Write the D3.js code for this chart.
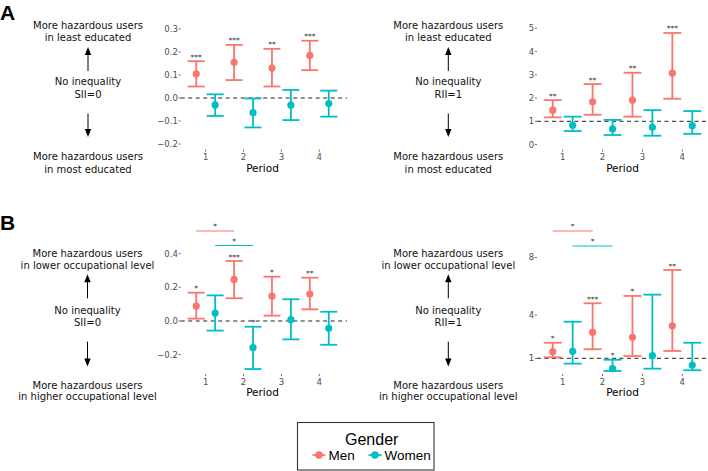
<!DOCTYPE html>
<html>
<head>
<meta charset="utf-8">
<script src="https://cdn.jsdelivr.net/npm/d3@7"></script>
<style>
  body { margin: 0; background: #fff; }
  svg { display: block; }
</style>
</head>
<body>
<svg id="chart" width="708" height="471"></svg>
<script>
// ---------------- DATA ----------------
const periods = ["1", "2", "3", "4"];
const genders = ["Men", "Women"];
const genderColors = ["#F8766D", "#00BFC4"];

// Panel A, left: SII by education
const siiEduMenEst   = [0.105, 0.155, 0.130, 0.185];
const siiEduMenLow   = [0.050, 0.078, 0.050, 0.121];
const siiEduMenHigh  = [0.160, 0.231, 0.214, 0.249];
const siiEduWomenEst = [-0.030, -0.064, -0.031, -0.024];
const siiEduWomenLow = [-0.078, -0.128, -0.096, -0.081];
const siiEduWomenHigh= [0.016, -0.002, 0.035, 0.032];
const siiEduMenSig   = ["***", "***", "**", "***"];
const siiEduWomenSig = ["", "", "", ""];
const siiEduTicks    = [-0.2, -0.1, 0.0, 0.1, 0.2, 0.3];

// Panel A, right: RII by education
const riiEduMenEst   = [1.48, 1.84, 1.91, 3.07];
const riiEduMenLow   = [1.17, 1.28, 1.20, 1.97];
const riiEduMenHigh  = [1.91, 2.60, 3.09, 4.80];
const riiEduWomenEst = [0.83, 0.67, 0.74, 0.81];
const riiEduWomenLow = [0.58, 0.41, 0.38, 0.46];
const riiEduWomenHigh= [1.20, 1.06, 1.48, 1.44];
const riiEduMenSig   = ["**", "**", "**", "***"];
const riiEduWomenSig = ["", "", "", ""];
const riiEduTicks    = [0, 1, 2, 3, 4, 5];

// Panel B, left: SII by occupational level
const siiOccMenEst   = [0.089, 0.247, 0.148, 0.160];
const siiOccMenLow   = [0.014, 0.135, 0.032, 0.069];
const siiOccMenHigh  = [0.168, 0.356, 0.263, 0.257];
const siiOccWomenEst = [0.047, -0.158, 0.008, -0.043];
const siiOccWomenLow = [-0.057, -0.285, -0.109, -0.141];
const siiOccWomenHigh= [0.152, -0.034, 0.129, 0.055];
const siiOccMenSig   = ["*", "***", "*", "**"];
const siiOccWomenSig = ["", "*", "", ""];
const siiOccTicks    = [-0.2, 0.0, 0.2, 0.4];
// Period 1 vs 2 comparison brackets (men, women): y level and label
const siiOccBracketY = [0.534, 0.448];
const siiOccBracketSig = ["*", "*"];

// Panel B, right: RII by occupational level
const riiOccMenEst   = [1.46, 2.81, 2.46, 3.26];
const riiOccMenLow   = [1.07, 1.63, 1.16, 1.51];
const riiOccMenHigh  = [2.08, 4.82, 5.33, 7.13];
const riiOccWomenEst = [1.49, 0.28, 1.18, 0.53];
const riiOccWomenLow = [0.63, 0.12, 0.28, 0.17];
const riiOccWomenHigh= [3.54, 0.90, 5.42, 2.08];
const riiOccMenSig   = ["*", "***", "*", "**"];
const riiOccWomenSig = ["", "*", "", ""];
const riiOccTicks    = [1, 4, 8];
const riiOccBracketY = [9.84, 8.80];
const riiOccBracketSig = ["*", "*"];

// Side annotations
const eduTop = ["More hazardous users", "in least educated"];
const eduBottom = ["More hazardous users", "in most educated"];
const occTop = ["More hazardous users", "in lower occupational level"];
const occBottom = ["More hazardous users", "in higher occupational level"];

// ---------------- DRAWING ----------------
const svg = d3.select("#chart");
const FONT = "'DejaVu Sans', Verdana, sans-serif";

function makeSeries(est, low, high, sig) {
  return periods.map((p, i) => ({ p, est: est[i], low: low[i], high: high[i], sig: sig[i] }));
}

function drawPanel(cfg) {
  const g = svg.append("g");
  const x = d3.scalePoint().domain(periods).range(cfg.xr);
  const y = d3.scaleLinear().domain(cfg.yd).range(cfg.yr);
  const step = x.step();
  const dodge = 0.25 * step, capHalf = 0.225 * step;

  // y axis ticks
  g.selectAll(".yt").data(cfg.ticks).join("line")
    .attr("x1", cfg.left - 2.2).attr("x2", cfg.left)
    .attr("y1", d => y(d)).attr("y2", d => y(d))
    .attr("stroke", "#4d4d4d").attr("stroke-width", 0.8);
  g.selectAll(".yl").data(cfg.ticks).join("text")
    .attr("x", cfg.left - 2.8).attr("y", d => y(d)).attr("dy", "0.35em")
    .attr("text-anchor", "end").attr("font-family", FONT).attr("font-size", 8.5)
    .attr("fill", "#4d4d4d").text(d => cfg.fmt(d));

  // x axis ticks
  g.selectAll(".xt").data(periods).join("line")
    .attr("x1", d => x(d)).attr("x2", d => x(d))
    .attr("y1", cfg.bottom).attr("y2", cfg.bottom + 2.2)
    .attr("stroke", "#4d4d4d").attr("stroke-width", 0.8);
  g.selectAll(".xl").data(periods).join("text")
    .attr("x", d => x(d)).attr("y", cfg.bottom + 10.5)
    .attr("text-anchor", "middle").attr("font-family", FONT).attr("font-size", 8.5)
    .attr("fill", "#4d4d4d").text(d => d);
  g.append("text").attr("x", (x(periods[0]) + x(periods[3])) / 2).attr("y", cfg.bottom + 22)
    .attr("text-anchor", "middle").attr("font-family", FONT).attr("font-size", 10.5)
    .attr("fill", "#000").text("Period");

  // reference line
  g.append("line").attr("x1", cfg.left).attr("x2", cfg.right)
    .attr("y1", y(cfg.ref)).attr("y2", y(cfg.ref))
    .attr("stroke", "#222").attr("stroke-width", 1).attr("stroke-dasharray", "4,3.5");

  // series
  cfg.series.forEach((ser, si) => {
    const col = genderColors[si];
    const off = si === 0 ? -dodge : dodge;
    const sg = g.append("g");
    const cx = d => x(d.p) + off;
    sg.selectAll(".v").data(ser).join("line")
      .attr("x1", cx).attr("x2", cx)
      .attr("y1", d => y(d.low)).attr("y2", d => y(d.high))
      .attr("stroke", col).attr("stroke-width", 1.8);
    ["low", "high"].forEach(k => {
      sg.selectAll(".c" + k).data(ser).join("line")
        .attr("x1", d => cx(d) - capHalf).attr("x2", d => cx(d) + capHalf)
        .attr("y1", d => y(d[k])).attr("y2", d => y(d[k]))
        .attr("stroke", col).attr("stroke-width", 1.8);
    });
    sg.selectAll("circle").data(ser).join("circle")
      .attr("cx", cx).attr("cy", d => y(d.est)).attr("r", 3.6).attr("fill", col);
    sg.selectAll(".s").data(ser.filter(d => d.sig)).join("text")
      .attr("x", cx).attr("y", d => y(d.high) - 1.5)
      .attr("text-anchor", "middle").attr("font-family", FONT).attr("font-size", 7.5)
      .attr("fill", "#333").text(d => d.sig);
  });

  // brackets between period 1 and 2
  if (cfg.brackets) {
    cfg.brackets.y.forEach((bv, si) => {
      const off = si === 0 ? -dodge : dodge;
      const x1 = x(periods[0]) + off, x2 = x(periods[1]) + off;
      g.append("line").attr("x1", x1).attr("x2", x2)
        .attr("y1", y(bv)).attr("y2", y(bv))
        .attr("stroke", genderColors[si]).attr("stroke-width", 1.2);
      g.append("text").attr("x", (x1 + x2) / 2).attr("y", y(bv) - 2)
        .attr("text-anchor", "middle").attr("font-family", FONT).attr("font-size", 7.5)
        .attr("fill", "#333").text(cfg.brackets.sig[si]);
    });
  }
}

function arrow(g, cx, from, to) {
  const dir = to < from ? -1 : 1;
  const headLen = 8, headHalf = 3.2;
  g.append("line").attr("x1", cx).attr("x2", cx).attr("y1", from).attr("y2", to - dir * headLen * 0.6)
    .attr("stroke", "#000").attr("stroke-width", 1);
  g.append("path")
    .attr("d", `M${cx},${to} L${cx - headHalf},${to - dir * headLen} L${cx + headHalf},${to - dir * headLen} Z`)
    .attr("fill", "#000");
}

function drawSide(cx, ys, top, mid, bottom) {
  const g = svg.append("g").attr("font-family", FONT).attr("font-size", 10).attr("fill", "#111")
    .attr("text-anchor", "middle");
  const lines = [top[0], top[1], mid[0], mid[1], bottom[0], bottom[1]];
  const yy = [ys.t1, ys.t2, ys.m1, ys.m2, ys.b1, ys.b2];
  lines.forEach((t, i) => g.append("text").attr("x", cx).attr("y", yy[i]).attr("dy", "0.35em").text(t));
  arrow(g, cx, ys.upFrom, ys.upTo);
  arrow(g, cx, ys.dnFrom, ys.dnTo);
}

const fmt1 = d3.format(".1f");
const fmt0 = d3.format("d");

// Panel A
drawPanel({
  xr: [205.7, 319.3], yd: [0, 0.3], yr: [98, 29], left: 180.7, right: 347, bottom: 149.5,
  ticks: siiEduTicks, fmt: fmt1, ref: 0,
  series: [makeSeries(siiEduMenEst, siiEduMenLow, siiEduMenHigh, siiEduMenSig),
           makeSeries(siiEduWomenEst, siiEduWomenLow, siiEduWomenHigh, siiEduWomenSig)]
});
drawPanel({
  xr: [562.7, 682.3], yd: [1, 5], yr: [121.3, 28.3], left: 537, right: 708, bottom: 149.5,
  ticks: riiEduTicks, fmt: fmt0, ref: 1,
  series: [makeSeries(riiEduMenEst, riiEduMenLow, riiEduMenHigh, riiEduMenSig),
           makeSeries(riiEduWomenEst, riiEduWomenLow, riiEduWomenHigh, riiEduWomenSig)]
});
// Panel B
drawPanel({
  xr: [205.7, 319.3], yd: [0, 0.4], yr: [321, 253.6], left: 180.7, right: 347, bottom: 374,
  ticks: siiOccTicks, fmt: fmt1, ref: 0,
  series: [makeSeries(siiOccMenEst, siiOccMenLow, siiOccMenHigh, siiOccMenSig),
           makeSeries(siiOccWomenEst, siiOccWomenLow, siiOccWomenHigh, siiOccWomenSig)],
  brackets: { y: siiOccBracketY, sig: siiOccBracketSig }
});
drawPanel({
  xr: [562.7, 682.3], yd: [1, 8], yr: [358.3, 257.5], left: 537, right: 708, bottom: 374,
  ticks: riiOccTicks, fmt: fmt0, ref: 1,
  series: [makeSeries(riiOccMenEst, riiOccMenLow, riiOccMenHigh, riiOccMenSig),
           makeSeries(riiOccWomenEst, riiOccWomenLow, riiOccWomenHigh, riiOccWomenSig)],
  brackets: { y: riiOccBracketY, sig: riiOccBracketSig }
});

const ysA = { t1: 25.7, t2: 37.3, m1: 81.7, m2: 94.3, b1: 156.7, b2: 169.3, upFrom: 71, upTo: 47, dnFrom: 113.5, dnTo: 137 };
const ysB = { t1: 253.3, t2: 265.7, m1: 310, m2: 322.7, b1: 385, b2: 396.7, upFrom: 298.3, upTo: 274.3, dnFrom: 341.7, dnTo: 366.5 };
drawSide(88, ysA, eduTop, ["No inequality", "SII=0"], eduBottom);
drawSide(448.3, ysA, eduTop, ["No inequality", "RII=1"], eduBottom);
drawSide(87.5, ysB, occTop, ["No inequality", "SII=0"], occBottom);
drawSide(448.3, ysB, occTop, ["No inequality", "RII=1"], occBottom);

// Panel letters
svg.append("text").attr("x", 0).attr("y", 20).attr("font-family", "'Liberation Sans', Arial, sans-serif")
  .attr("font-weight", "bold").attr("font-size", 21).text("A");
svg.append("text").attr("x", 0).attr("y", 230).attr("font-family", "'Liberation Sans', Arial, sans-serif")
  .attr("font-weight", "bold").attr("font-size", 21).text("B");

// Legend
const lg = svg.append("g");
lg.append("rect").attr("x", 297.5).attr("y", 422.5).attr("width", 136.5).attr("height", 47.5)
  .attr("fill", "#fff").attr("stroke", "#333").attr("stroke-width", 1.1);
lg.append("text").attr("x", 371.7).attr("y", 445).attr("text-anchor", "middle")
  .attr("font-family", "'Liberation Sans', Arial, sans-serif").attr("font-size", 16).text("Gender");
const legX = [319, 375];
genders.forEach((gname, i) => {
  lg.append("line").attr("x1", legX[i] - 6.5).attr("x2", legX[i] + 6.5).attr("y1", 455).attr("y2", 455)
    .attr("stroke", genderColors[i]).attr("stroke-width", 1.8);
  lg.append("circle").attr("cx", legX[i]).attr("cy", 455).attr("r", 3.8).attr("fill", genderColors[i]);
  lg.append("text").attr("x", legX[i] + 9.5).attr("y", 455).attr("dy", "0.36em")
    .attr("font-family", "'Liberation Sans', Arial, sans-serif").attr("font-size", 13.5).text(gname);
});
</script>
</body>
</html>
